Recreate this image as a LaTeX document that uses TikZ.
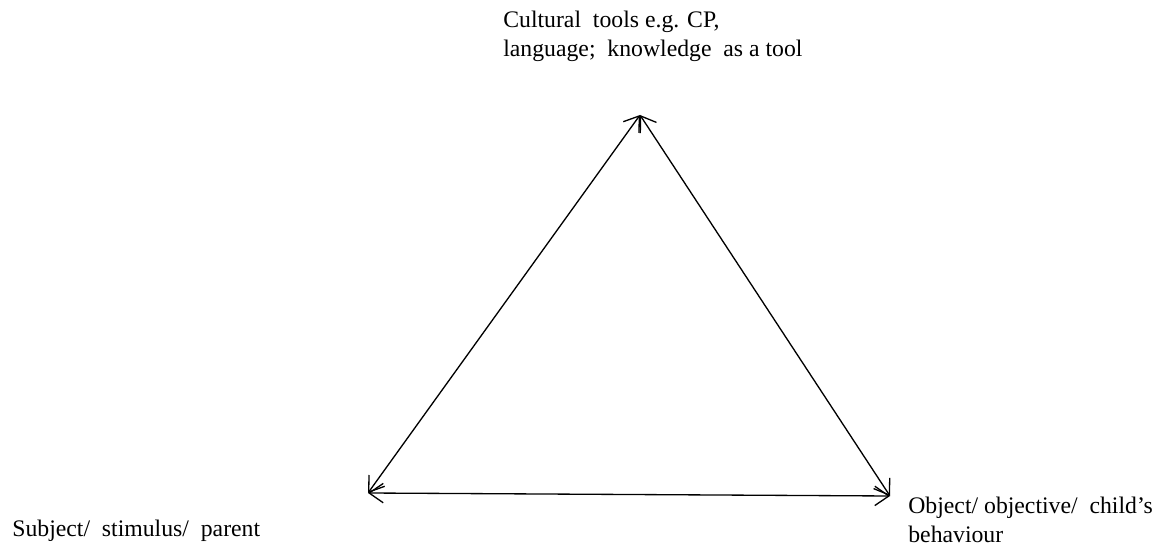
\documentclass[tikz,border=0pt]{standalone}
\usepackage{fontspec}
\setmainfont{Liberation Serif}
\usepackage{tikz}
\usetikzlibrary{positioning, arrows.meta}

\begin{document}
\begin{tikzpicture}[
    edge/.style={{Straight Barb[length=8pt,width=11pt]}-{Straight Barb[length=8pt,width=11pt]}, line width=0.75pt},
    label/.style={align=left, inner sep=0pt, font=\fontsize{13.5}{16.4}\selectfont}
  ]
      \useasboundingbox (0, 0) rectangle (23.16, 11);

      % corners of the triangle
      \coordinate (tool) at (12.8, 8.7);
      \coordinate (subj) at (7.36, 1.14);
      \coordinate (obj) at (17.8, 1.08);

      \draw[edge] (subj) -- (tool);
      \draw[edge] (tool) -- (obj);
      \draw[edge] (subj) -- (obj);

      % texts
      \node[label, anchor=north west] (tooltext) at (10.06, 10.78) {Cultural~ tools e.g. CP,\\language;~ knowledge~ as a tool};
      \node[label, anchor=north west] (subjtext) at (0.24, 0.6) {Subject/~ stimulus/~ parent};
      \node[label, anchor=north west] (objtext) at (18.16, 1.06) {Object/ objective/~ child’s\\behaviour};
\end{tikzpicture}
\end{document}
